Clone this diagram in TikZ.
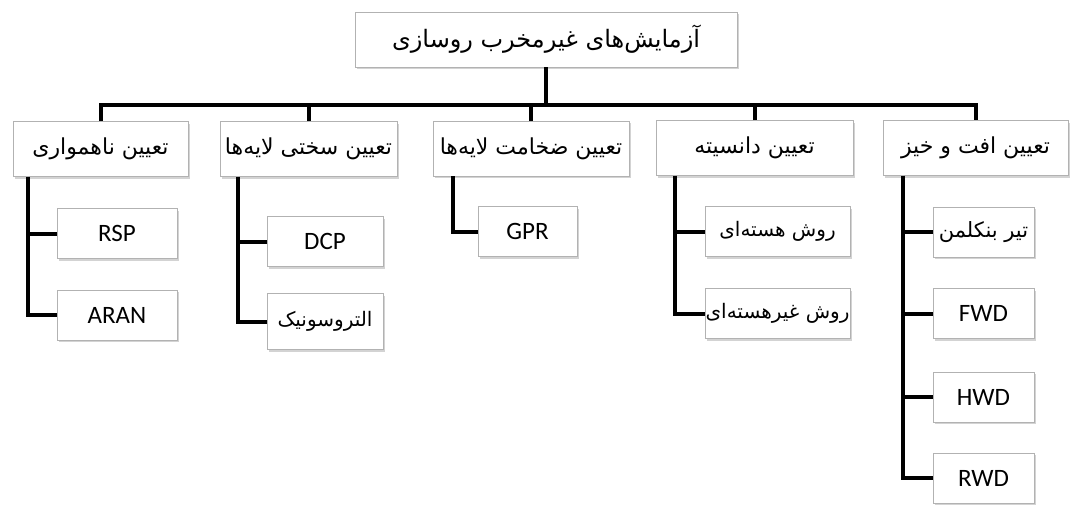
\documentclass[tikz,border=0pt]{standalone}
\usepackage{fontspec}
\setmainfont{Carlito}
\newfontfamily\fa[Script=Arabic]{DejaVu Sans}
\TeXXeTstate=1
\usetikzlibrary{shadows}
\tikzset{
  box/.style={draw=gray!60, line width=0.8pt, fill=white, inner sep=0pt,
    drop shadow={shadow xshift=1.5pt, shadow yshift=-2pt, opacity=0.35, fill=gray}},
  cat/.style={box, minimum height=55, font=\fa\fontsize{22}{26}\selectfont},
  leaf/.style={box, minimum height=50, font=\fontsize{25}{30}\selectfont},
  faleaf/.style={box, minimum height=50, font=\fa\fontsize{20}{24}\selectfont},
  conn/.style={line width=4pt, black},
}
\begin{document}
\begin{tikzpicture}[x=1pt,y=-1pt]
\useasboundingbox (0,0) rectangle (1070,504);
\coordinate (bar) at (0,105);
% top
\node[box, minimum width=382, minimum height=55, font=\fa\fontsize{24}{28}\selectfont] (top) at (546,39.5) {\beginR آزمایش‌های غیرمخرب روسازی\endR};
% categories
\node[cat, minimum width=175] (c1) at (100.5,149) {\beginR تعیین ناهمواری\endR};
\node[cat, minimum width=177] (c2) at (308.5,149) {\beginR تعیین سختی لایه‌ها\endR};
\node[cat, minimum width=196] (c3) at (531,148.5) {\beginR تعیین ضخامت لایه‌ها\endR};
\node[cat, minimum width=197] (c4) at (754.5,148) {\beginR تعیین دانسیته\endR};
\node[cat, minimum width=185] (c5) at (975.5,148) {\beginR تعیین افت و خیز\endR};
% leaves
\node[leaf, minimum width=120] (rsp) at (117,233.5) {RSP};
\node[leaf, minimum width=120] (aran) at (117,315) {ARAN};
\node[leaf, minimum width=116] (dcp) at (325,241.5) {DCP};
\node[faleaf, minimum width=116, minimum height=56] (ult) at (325,321.5) {\beginR التروسونیک\endR};
\node[leaf, minimum width=99] (gpr) at (527.5,231.5) {GPR};
\node[faleaf, minimum width=145] (nuc) at (777.5,231.5) {\beginR روش هسته‌ای\endR};
\node[faleaf, minimum width=145] (nnuc) at (777.5,313.5) {\beginR روش غیرهسته‌ای\endR};
\node[faleaf, minimum width=101, font=\fa\fontsize{21}{24}\selectfont] (ben) at (983.5,232) {\beginR تیر بنکلمن\endR};
\node[leaf, minimum width=101] (fwd) at (983.5,313.5) {FWD};
\node[leaf, minimum width=101] (hwd) at (983.5,397) {HWD};
\node[leaf, minimum width=101] (rwd) at (983.5,478) {RWD};
% connectors
\draw[conn] (top.south) -- (top.south |- bar);
\draw[conn] (c1.north) -- (c1.north |- bar) -- (c5.north |- bar) -- (c5.north);
\foreach \c in {c2,c3,c4} \draw[conn] (\c.north) -- (\c.north |- bar);
\draw[conn] ([xshift=15]c1.south west) |- (rsp.west);
\draw[conn] ([xshift=15]c1.south west) |- (aran.west);
\draw[conn] ([xshift=18]c2.south west) |- (dcp.west);
\draw[conn] ([xshift=18]c2.south west) |- (ult.west);
\draw[conn] ([xshift=20]c3.south west) |- (gpr.west);
\draw[conn] ([xshift=19]c4.south west) |- (nuc.west);
\draw[conn] ([xshift=19]c4.south west) |- (nnuc.west);
\foreach \l in {ben,fwd,hwd,rwd} \draw[conn] ([xshift=20]c5.south west) |- (\l.west);
\end{tikzpicture}
\end{document}
